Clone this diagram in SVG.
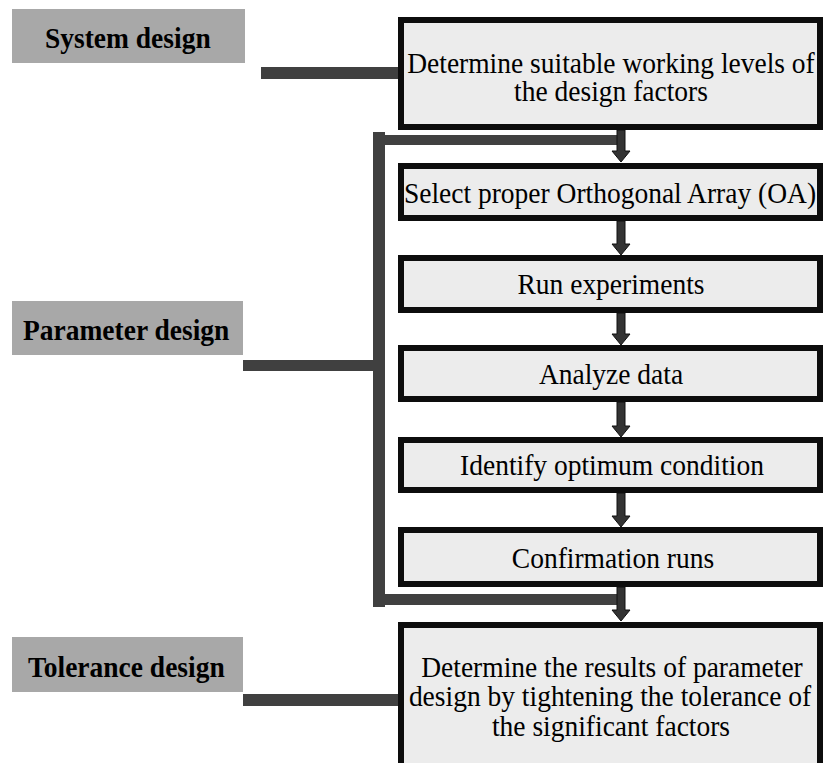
<svg xmlns="http://www.w3.org/2000/svg" width="823" height="763" viewBox="0 0 823 763">
<style>
.lbl{fill:#a8a8a8}
.lt{font-family:"Liberation Serif","Times New Roman",serif;font-weight:bold;font-size:27.5px;fill:#000}
.box{fill:#ececec;stroke:#0d0d0d;stroke-width:6}
.bt{font-family:"Liberation Serif","Times New Roman",serif;font-size:27.5px;fill:#000;text-anchor:middle}
.bar{fill:#404040}
.arr{fill:#333;stroke:#111;stroke-width:1}
</style>
<rect width="823" height="763" fill="#fff"/>
<g id="system-design">
<rect class="lbl" x="12" y="9" width="233" height="54"/>
<text class="lt" x="45" y="48" transform="matrix(1 0 0 1.1 0 -4.8)">System design</text>
</g>
<g id="parameter-design">
<rect class="lbl" x="12" y="301" width="231" height="54"/>
<text class="lt" x="23" y="340" transform="matrix(1 0 0 1.1 0 -34)">Parameter design</text>
</g>
<g id="tolerance-design">
<rect class="lbl" x="12" y="637" width="231" height="55"/>
<text class="lt" x="28" y="677" transform="matrix(1 0 0 1.1 0 -67.7)">Tolerance design</text>
</g>
<g id="connectors">
<rect class="bar" x="261" y="67" width="138" height="12"/>
<rect class="bar" x="243" y="360" width="131" height="11"/>
<rect class="bar" x="243" y="694" width="156" height="12"/>
<rect class="bar" x="373" y="132" width="12" height="475"/>
<rect class="bar" x="373" y="135" width="246" height="10"/>
<rect class="bar" x="373" y="594" width="246" height="11"/>
<path class="arr" d="M617,130 H625 V151 H630 L621,162 L612,151 H617 Z"/>
<path class="arr" d="M617,221 H625 V244 H630 L621,255 L612,244 H617 Z"/>
<path class="arr" d="M617,313 H625 V334 H630 L621,345 L612,334 H617 Z"/>
<path class="arr" d="M617,402 H625 V426 H630 L621,437 L612,426 H617 Z"/>
<path class="arr" d="M617,493 H625 V516 H630 L621,527 L612,516 H617 Z"/>
<path class="arr" d="M617,587 H625 V610 H630 L621,621 L612,610 H617 Z"/>
</g>
<g id="determine-levels">
<rect class="box" x="401" y="20" width="419" height="107"/>
<text class="bt" x="611" y="73" transform="matrix(1 0 0 1.1 0 -7.3)">Determine suitable working levels of</text>
<text class="bt" x="611" y="101" transform="matrix(1 0 0 1.1 0 -10.1)">the design factors</text>
</g>
<g id="select-oa">
<rect class="box" x="401" y="166" width="419" height="52"/>
<text class="bt" x="610" y="203" transform="matrix(1 0 0 1.1 0 -20.3)">Select proper Orthogonal Array (OA)</text>
</g>
<g id="run-experiments">
<rect class="box" x="401" y="258" width="419" height="52"/>
<text class="bt" x="611" y="294" transform="matrix(1 0 0 1.1 0 -29.4)">Run experiments</text>
</g>
<g id="analyze-data">
<rect class="box" x="401" y="348" width="419" height="51"/>
<text class="bt" x="611" y="384" transform="matrix(1 0 0 1.1 0 -38.4)">Analyze data</text>
</g>
<g id="identify-optimum">
<rect class="box" x="401" y="440" width="419" height="50"/>
<text class="bt" x="612" y="475" transform="matrix(1 0 0 1.1 0 -47.5)">Identify optimum condition</text>
</g>
<g id="confirmation-runs">
<rect class="box" x="401" y="530" width="419" height="54"/>
<text class="bt" x="613" y="568" transform="matrix(1 0 0 1.1 0 -56.8)">Confirmation runs</text>
</g>
<g id="determine-results">
<rect class="box" x="401" y="625" width="419" height="160"/>
<text class="bt" x="612" y="677" transform="matrix(1 0 0 1.1 0 -67.7)">Determine the results of parameter</text>
<text class="bt" x="610" y="706" transform="matrix(1 0 0 1.1 0 -70.6)">design by tightening the tolerance of</text>
<text class="bt" x="611" y="736" transform="matrix(1 0 0 1.1 0 -73.6)">the significant factors</text>
</g>
</svg>
